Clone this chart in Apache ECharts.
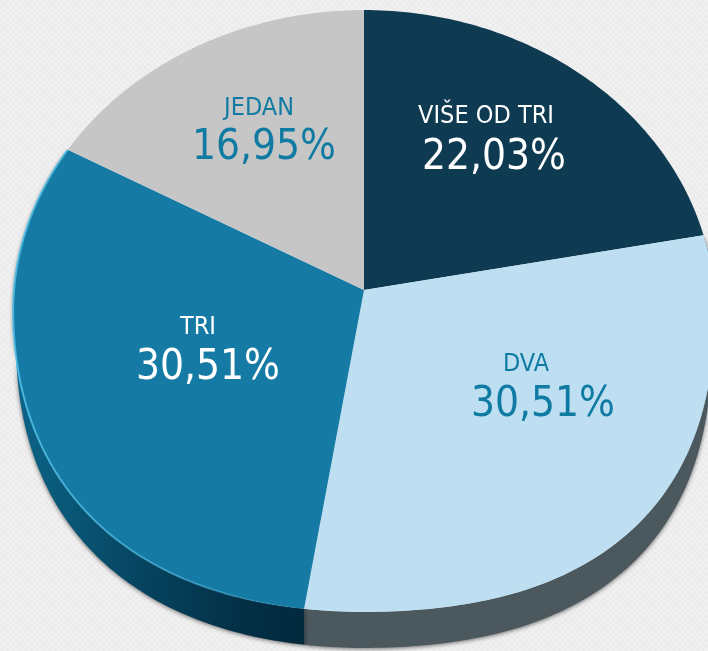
<!DOCTYPE html>
<html>
<head>
<meta charset="utf-8">
<style>
  html, body { margin: 0; padding: 0; }
  body {
    background-color: #f0f0f0;
    background-image:
      radial-gradient(circle at 1.5px 1.5px, #eaeaea 1px, transparent 1.6px),
      radial-gradient(circle at 4.5px 4.5px, #eaeaea 1px, transparent 1.6px);
    background-size: 6px 6px;
  }
  #chart { width: 708px; height: 651px; }
</style>
<script src="https://cdn.jsdelivr.net/npm/echarts@6/dist/echarts.min.js"></script>
</head>
<body>
<div id="chart"></div>
<script>
const categories = ["VIŠE OD TRI", "DVA", "TRI", "JEDAN"];
const values = [22.03, 30.51, 30.51, 16.95];

const topColors = ["#0e3a52", "#bddff1", "#157ba5", "#c6c6c6"];
const textColors = ["#ffffff", "#0f7aa2", "#ffffff", "#0f7aa2"];
const nameAnchors = [[486, 116], [526, 364], [198, 327], [259, 108]];
const valueAnchors = [[494, 158], [543, 405], [208, 368], [264, 148]];

const FONT = '"DejaVu Sans Condensed", "DejaVu Sans", sans-serif';
const total = values.reduce((a, b) => a + b, 0);

// the face is a circle seen in perspective: apex sits above the ellipse centre
const cx = 364, apexY = 290;
const k = 0.0698, a = 350, b = 299.5;
const depth = 36, a2 = 347, b2 = 299.5;
// the front half of the original disc is fuller than a true ellipse
const bulgeLeft = 0.036, bulgeRight = 0.054;

function rimPoint(t, ax, by, cy) {
  const x = Math.sin(t), y = -Math.cos(t), w = 1 - k * y;
  let dx = ax * x / w, dy = by * y / w;
  const midShift = by * k / (1 - k * k);
  const ry = by / Math.sqrt(1 - k * k);
  const ny = (dy - midShift) / ry, nx = dx / ax;
  if (ny > 0) {
    const s = 4 * nx * nx * ny * ny;
    const f = 1 + (dx < 0 ? bulgeLeft : bulgeRight) * s;
    dx *= f;
    dy = midShift + (dy - midShift) * f;
  }
  return [cx + dx, cy + dy];
}

function arc(start, end, ax, by, cy) {
  const n = Math.max(2, Math.ceil((end - start) / (Math.PI / 180)));
  const pts = [];
  for (let i = 0; i <= n; i++) pts.push(rimPoint(start + (end - start) * i / n, ax, by, cy));
  return pts;
}

function sliceRange(i) {
  let before = 0;
  for (let j = 0; j < i; j++) before += values[j];
  return [before / total * Math.PI * 2, (before + values[i]) / total * Math.PI * 2];
}

function sideFill(i) {
  if (i === 2) {
    return new echarts.graphic.LinearGradient(0, 0, 1, 0, [
      { offset: 0, color: "#0c6588" },
      { offset: 0.45, color: "#06435f" },
      { offset: 0.8, color: "#032f45" },
      { offset: 1, color: "#03293d" }
    ]);
  }
  return "#4b585e";
}

function renderSide(params) {
  const i = params.dataIndex;
  // only the two front slices show a wall
  if (i !== 1 && i !== 2) return null;
  const [s, e] = sliceRange(i);
  const upper = arc(s, e, a, b, apexY);
  const lower = arc(s, e, a2, b2, apexY + depth).reverse();
  return {
    type: "polygon",
    shape: { points: upper.concat(lower) },
    style: {
      fill: sideFill(i),
      shadowBlur: 4,
      shadowColor: "rgba(0,0,0,0.55)",
      shadowOffsetY: 1
    }
  };
}

function renderTop(params) {
  const i = params.dataIndex;
  const [s, e] = sliceRange(i);
  const rim = arc(s, e, a, b, apexY);
  const children = [{
    type: "polygon",
    shape: { points: [[cx, apexY]].concat(rim) },
    style: { fill: topColors[i] }
  }];
  if (i === 2) {
    // light edge on the TRI face, fading towards the front
    children.push({
      type: "polyline",
      shape: { points: rim },
      style: {
        fill: "none",
        lineWidth: 2,
        stroke: new echarts.graphic.LinearGradient(0, 0, 1, 0, [
          { offset: 0, color: "rgba(80,190,230,0.9)" },
          { offset: 0.6, color: "rgba(80,190,230,0.5)" },
          { offset: 1, color: "rgba(80,190,230,0)" }
        ])
      }
    });
  }
  return { type: "group", children };
}

function renderLabel(params) {
  const i = params.dataIndex;
  const pct = values[i].toFixed(2).replace(".", ",") + "%";
  return {
    type: "group",
    children: [
      {
        type: "text",
        style: {
          text: categories[i], x: nameAnchors[i][0], y: nameAnchors[i][1],
          fill: textColors[i], font: "25px " + FONT, align: "center", verticalAlign: "middle"
        }
      },
      {
        type: "text",
        style: {
          text: pct, x: valueAnchors[i][0], y: valueAnchors[i][1],
          fill: textColors[i], font: "42px " + FONT, align: "center", verticalAlign: "middle"
        }
      }
    ]
  };
}

const chart = echarts.init(document.getElementById("chart"), undefined, { renderer: "canvas" });
chart.setOption({
  backgroundColor: "transparent",
  animation: false,
  series: [
    { type: "custom", coordinateSystem: "none", z: 1, data: values, renderItem: renderSide, silent: true },
    { type: "custom", coordinateSystem: "none", z: 2, data: values, renderItem: renderTop, silent: true },
    { type: "custom", coordinateSystem: "none", z: 3, data: values, renderItem: renderLabel, silent: true }
  ]
});
</script>
</body>
</html>
